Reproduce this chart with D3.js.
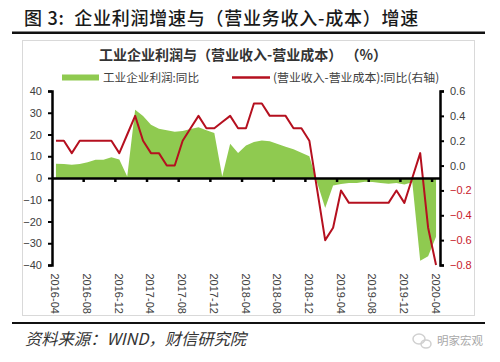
<!DOCTYPE html>
<html>
<head>
<meta charset="utf-8">
<script src="https://cdn.jsdelivr.net/npm/d3@7"></script>
<style>
html, body { margin: 0; padding: 0; background: #fff; }
text { font-family: "Liberation Sans", "Noto Sans CJK SC", sans-serif; }
.cjk { font-family: "Noto Sans CJK SC", sans-serif; }
</style>
</head>
<body>
<div id="chart"></div>
<script>
const months = [
  '2016-04','2016-05','2016-06','2016-07','2016-08','2016-09','2016-10','2016-11','2016-12',
  '2017-01','2017-02','2017-03','2017-04','2017-05','2017-06','2017-07','2017-08','2017-09','2017-10','2017-11','2017-12',
  '2018-01','2018-02','2018-03','2018-04','2018-05','2018-06','2018-07','2018-08','2018-09','2018-10','2018-11','2018-12',
  '2019-01','2019-02','2019-03','2019-04','2019-05','2019-06','2019-07','2019-08','2019-09','2019-10','2019-11','2019-12',
  '2020-01','2020-02','2020-03','2020-04'
];
const profit = [
  6.6,6.4,6.1,6.4,7.2,8.4,8.4,9.5,8.5,0.7,31.4,28.5,24.5,22.7,22,21.3,21.6,22.5,23.3,22,20.7,0.7,15.8,11.5,
  14.9,16.5,17.2,16.9,15.6,14.4,13.2,11.6,10,-2.3,-13.8,-3.4,-2.8,-2.3,-2.3,-1.7,-1.8,-2.3,-2.6,-2.3,-3,-2,-38,-36,-27
];
const spread = [
  0.2,0.2,0.1,0.2,0.2,0.2,0.2,0.2,0.1,0.25,0.4,0.2,0.1,0.1,0,0,0.2,0.3,0.4,0.3,0.3,0.35,0.4,0.3,
  0.3,0.5,0.5,0.4,0.4,0.4,0.3,0.3,0.2,-0.2,-0.6,-0.5,-0.2,-0.3,-0.3,-0.3,-0.3,-0.3,-0.3,-0.2,-0.3,-0.1,0.1,-0.5,-0.8
];
const leftTicks = [-40,-30,-20,-10,0,10,20,30,40];
const rightTicks = [-0.8,-0.6,-0.4,-0.2,0,0.2,0.4,0.6];
const xLabels = months.filter((d, i) => i % 4 === 0);

const green = '#8fca50';
const red = '#b5101f';

const svg = d3.select('#chart').append('svg')
  .attr('width', 500)
  .attr('height', 362)
  .style('display', 'block');

const scaleX = d3.scaleBand().domain(months).range([52, 440]);
const scaleY = d3.scaleLinear().domain([-40, 40]).range([265, 91]);
const scaleR = d3.scaleLinear().domain([-0.8, 0.6]).range([265, 91]);
const midX = d => scaleX(d) + scaleX.bandwidth() / 2;

// page furniture
svg.append('text').attr('class', 'cjk').attr('x', 24).attr('y', 25)
  .attr('font-size', 18).attr('font-weight', 500).attr('fill', '#1a1a1a')
  .attr('letter-spacing', 0.75)
  .style('white-space', 'pre')
  .text('图 3:  企业利润增速与（营业务收入-成本）增速');
svg.append('rect').attr('x', 12).attr('y', 31.5).attr('width', 473).attr('height', 2.5).attr('fill', '#111');
svg.append('rect').attr('x', 12).attr('y', 322).attr('width', 473).attr('height', 2).attr('fill', '#111');
svg.append('rect').attr('x', 22.5).attr('y', 40.5).attr('width', 452).attr('height', 275)
  .attr('fill', '#fff').attr('stroke', '#d9d9d9');

svg.append('text').attr('class', 'cjk').attr('x', 243).attr('y', 60).attr('text-anchor', 'middle')
  .attr('font-size', 14).attr('font-weight', 700).attr('fill', '#333')
  .style('white-space', 'pre').text('工业企业利润与（营业收入-营业成本） （%）');

// legend
svg.append('rect').attr('x', 62).attr('y', 74.5).attr('width', 37).attr('height', 6).attr('fill', green);
svg.append('text').attr('class', 'cjk').attr('x', 103).attr('y', 81.5)
  .attr('font-size', 11.6).attr('fill', '#404040').text('工业企业利润:同比');
svg.append('line').attr('x1', 232).attr('x2', 270).attr('y1', 77.5).attr('y2', 77.5)
  .attr('stroke', red).attr('stroke-width', 2.5);
svg.append('text').attr('class', 'cjk').attr('x', 273).attr('y', 81.5)
  .attr('font-size', 11.9).attr('fill', '#404040').text('(营业收入-营业成本):同比(右轴)');

// profit area on the left axis
const area = d3.area()
  .x(d => midX(d.month))
  .y0(scaleY(0))
  .y1(d => scaleY(d.value));
svg.append('path')
  .attr('fill', green)
  .attr('d', area(months.map((m, i) => ({ month: m, value: profit[i] }))));

// spread line on the right axis
const line = d3.line()
  .x(d => midX(d.month))
  .y(d => scaleR(d.value));
svg.append('path')
  .attr('fill', 'none')
  .attr('stroke', red)
  .attr('stroke-width', 2)
  .attr('stroke-linejoin', 'round')
  .attr('d', line(months.map((m, i) => ({ month: m, value: spread[i] }))));

// axes
const axisL = d3.axisLeft(scaleY).tickValues(leftTicks).tickSize(4).tickPadding(6);
const gL = svg.append('g').attr('transform', 'translate(52, 0)').call(axisL);
const axisR = d3.axisRight(scaleR).tickValues(rightTicks).tickSize(4).tickPadding(6).tickFormat(d3.format('.1f'));
const gR = svg.append('g').attr('transform', 'translate(440, 0)').call(axisR);
const axisX = d3.axisBottom(scaleX).tickValues(xLabels).tickSize(0).tickFormat('');
const gX = svg.append('g').attr('transform', `translate(0, ${scaleY(0)})`).call(axisX);

// month ticks sit on the band edges
gX.selectAll('.tick line').remove();
gX.selectAll('.edge').data(xLabels.slice(1)).join('line')
  .attr('class', 'edge')
  .attr('x1', d => scaleX(d)).attr('x2', d => scaleX(d))
  .attr('y1', 0).attr('y2', 4)
  .attr('stroke', '#000').attr('stroke-width', 2.5);

[gL, gR, gX].forEach(g => {
  g.select('.domain').attr('stroke', '#000').attr('stroke-width', 2.5);
  g.selectAll('.tick line').attr('stroke', '#000').attr('stroke-width', 2);
  g.selectAll('.tick text').attr('font-size', 11).attr('fill', '#404040')
    .style('font-family', '"Liberation Sans", sans-serif');
});
gR.selectAll('.tick text').attr('fill', d => d < 0 ? '#c8202c' : '#404040');

svg.append('g').selectAll('text').data(xLabels).join('text')
  .attr('transform', d => `translate(${midX(d) - 4.5}, 273.5) rotate(90)`)
  .attr('font-size', 11).attr('fill', '#404040')
  .text(d => d);

// source + watermark
svg.append('text').attr('class', 'cjk').attr('x', 25).attr('y', 345)
  .attr('font-size', 16.3).attr('font-style', 'italic').attr('fill', '#333')
  .text('资料来源：WIND，财信研究院');
svg.append('text').attr('class', 'cjk').attr('x', 437).attr('y', 345)
  .attr('font-size', 11.5).attr('fill', '#a8a8a8').text('明家宏观');
svg.append('ellipse').attr('cx', 419).attr('cy', 339).attr('rx', 6).attr('ry', 5)
  .attr('fill', 'none').attr('stroke', '#d0d0d0').attr('stroke-width', 1.5);
svg.append('ellipse').attr('cx', 426).attr('cy', 344).attr('rx', 5).attr('ry', 4)
  .attr('fill', 'none').attr('stroke', '#d0d0d0').attr('stroke-width', 1.5);
</script>
</body>
</html>
